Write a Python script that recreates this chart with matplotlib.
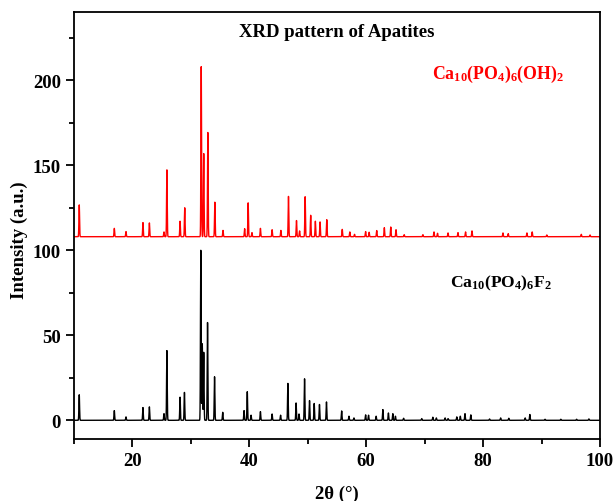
import numpy as np
import matplotlib.pyplot as plt

plt.rcParams['font.family'] = 'Liberation Serif'
plt.rcParams['font.weight'] = 'bold'
plt.rcParams['mathtext.fontset'] = 'custom'
plt.rcParams['mathtext.rm'] = 'Liberation Serif:bold'
plt.rcParams['mathtext.bf'] = 'Liberation Serif:bold'
plt.rcParams['mathtext.default'] = 'rm'

# Fluorapatite Ca10(PO4)6F2 reflections: 2theta (deg), relative intensity
fap_pos = [10.9, 16.9, 18.9, 21.8, 22.9, 25.4, 25.9, 28.15, 28.9, 31.7, 31.95,
           32.2, 32.85, 34.05, 35.45, 39.1, 39.65, 40.3, 41.9, 43.9, 45.35,
           46.6, 48.0, 48.5, 49.45, 50.3, 51.1, 52.0, 53.2, 55.8, 57.05, 57.9,
           59.9, 60.4, 61.7, 62.85, 63.8, 64.55, 65.0, 66.4, 69.5, 71.4, 72.0,
           73.5, 74.0, 75.5, 76.1, 76.9, 77.9, 81.1, 83.0, 84.4, 87.2, 88.0,
           90.6, 93.3, 96.0, 98.1]
fap_int = [15, 5.7, 2, 7.5, 7.9, 3.9, 41, 13.6, 16.4, 100, 45,
           40, 57.5, 25.6, 4.7, 5.7, 16.8, 3, 5.1, 3.7, 3,
           21.7, 10.2, 3.7, 24.4, 11.6, 9.9, 9.3, 10.8, 5.5, 2.4, 1.4,
           3.2, 3, 2.4, 6.3, 4.3, 3.9, 2.4, 1.2, 1, 1.8, 1.4,
           1.4, 1, 2, 2.4, 3.9, 3.2, 0.8, 1.4, 1.2, 1.4, 3.4,
           0.6, 0.6, 0.6, 0.8]

# Hydroxyapatite Ca10(PO4)6(OH)2 reflections
hap_pos = [10.9, 16.9, 18.9, 21.8, 22.9, 25.4, 25.9, 28.15, 28.95, 31.77,
           32.2, 32.9, 34.1, 35.5, 39.2, 39.8, 40.45, 41.9, 43.9, 45.4,
           46.7, 48.07, 48.6, 49.55, 50.5, 51.3, 52.1, 53.25, 55.9, 57.2,
           58.0, 59.9, 60.5, 61.8, 63.1, 64.2, 65.1, 66.5, 69.7, 71.6, 72.2,
           74.0, 75.7, 77.0, 78.1, 83.4, 84.3, 87.5, 88.4, 90.9, 96.8, 98.3]
hap_int = [18.7, 4.9, 3.0, 8.3, 8.1, 2.8, 39.3, 9.1, 17, 100,
           48.9, 61.3, 20.3, 3.7, 4.7, 19.9, 2.4, 4.9, 4.1, 3.7,
           23.7, 9.5, 3.4, 23.5, 12.6, 9.1, 8.7, 10, 4.3, 2.8,
           1.4, 3, 2.6, 3.6, 5.3, 5.7, 4.1, 1.2, 1.2, 2.8, 2,
           2.2, 2.4, 2.8, 3.4, 2.2, 1.8, 2.2, 2.8, 1, 1.4, 1]

hap_offset = 108


def profile(two_theta, pos, inten, sigma=0.055):
    y = np.zeros_like(two_theta)
    for p, h in zip(pos, inten):
        y += h * np.exp(-0.5 * ((two_theta - p) / sigma) ** 2)
    return y


tt = np.arange(10, 100.001, 0.01)

fig = plt.figure(figsize=(6.16, 5.02), dpi=100)
ax = fig.add_axes([0.1201, 0.1235, 0.8539, 0.85])

ax.plot(tt, profile(tt, fap_pos, fap_int), color='black', lw=1.0)
ax.plot(tt, profile(tt, hap_pos, hap_int) + hap_offset, color='red', lw=1.0)

ax.set_xlim(10, 100)
ax.set_ylim(-11, 240)
ax.set_xticks([20, 40, 60, 80, 100])
ax.set_xticks([10, 30, 50, 70, 90], minor=True)
ax.set_yticks([0, 50, 100, 150, 200])
ax.set_yticks([25, 75, 125, 175, 225], minor=True)
ax.tick_params(which='major', direction='out', length=6, width=1.3,
               labelsize=13.5, top=False, right=False)
ax.tick_params(which='minor', direction='out', length=3.5, width=1.3,
               top=False, right=False)
for lbl in ax.get_xticklabels() + ax.get_yticklabels():
    lbl.set_fontweight('bold')
for s in ax.spines.values():
    s.set_linewidth(1.3)

ax.set_xlabel('2θ (°)', fontsize=13.5, fontweight='bold', labelpad=11)
ax.set_ylabel('Intensity (a.u.)', fontsize=13.5, fontweight='bold')
ax.yaxis.set_label_coords(-0.087, 0.469)

ax.text(0.5, 0.955, 'XRD pattern of Apatites', transform=ax.transAxes,
        ha='center', va='center', fontsize=13.5, fontweight='bold')
ax.text(82.5, 204, 'Ca$_{10}$(PO$_4$)$_6$(OH)$_2$', color='red',
        ha='center', va='center', fontsize=12.8)
ax.text(83.1, 81, 'Ca$_{10}$(PO$_4$)$_6$F$_2$', color='black',
        ha='center', va='center', fontsize=12.6)

fig.savefig('out.png', dpi=100)
